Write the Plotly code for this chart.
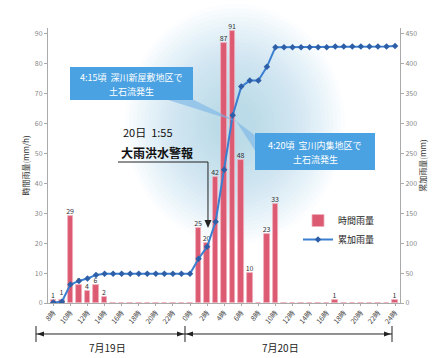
import plotly.graph_objects as go

# Hour index across 19th 08:00 through 20th 24:00
hours = list(range(41))
hourly_rain = [1, 1, 29, 6, 4, 6, 2, 0, 0, 0, 0, 0, 0, 0, 0, 0, 0,
               25, 20, 42, 87, 91, 48, 10, 0, 23, 33,
               0, 0, 0, 0, 0, 0, 1, 0, 0, 0, 0, 0, 0, 1]
cumulative_rain = [1, 2, 31, 37, 41, 47, 49, 49, 49, 49, 49, 49, 49, 49, 49, 49, 49,
                   74, 94, 136, 223, 314, 362, 372, 372, 395, 428,
                   428, 428, 428, 428, 428, 428, 429, 429, 429, 429, 429, 429, 429, 430]
tick_positions = hours[::2]
tick_labels = ["8時", "10時", "12時", "14時", "16時", "18時", "20時", "22時",
               "0時", "2時", "4時", "6時", "8時", "10時", "12時", "14時",
               "16時", "18時", "20時", "22時", "24時"]
left_ticks = list(range(0, 91, 10))
right_ticks = list(range(0, 451, 50))

W, H = 446, 358
ML, MR, MT, MB = 48, 46, 28, 55
PW, PH = W - ML - MR, H - MT - MB
FONT = "Noto Sans CJK JP"


def P(x, y):
    """pixel position -> paper coordinates"""
    return (x - ML) / PW, (H - MB - y) / PH


def path(points, close=True):
    pts = [P(x, y) for x, y in points]
    s = "M " + " L ".join(f"{a:.4f},{b:.4f}" for a, b in pts)
    return s + (" Z" if close else "")


shapes = []

# soft blue glow behind the peak
cx, cy, rx, ry = 235, 124, 110, 120
n_layers = 24
for k in range(n_layers):
    f = 1.0 - k * (0.85 / n_layers)
    x0, y0 = P(cx - rx * f, cy + ry * f)
    x1, y1 = P(cx + rx * f, cy - ry * f)
    shapes.append(dict(type="circle", xref="paper", yref="paper",
                       x0=x0, y0=y0, x1=x1, y1=y1, layer="below",
                       fillcolor="rgba(160,200,235,0.042)", line=dict(width=0)))

# callout tails and boxes
shapes.append(dict(type="path", xref="paper", yref="paper", layer="above",
                   path=path([(165, 99), (192, 99), (238, 122)]),
                   fillcolor="rgba(120,180,230,0.6)", line=dict(width=0)))
shapes.append(dict(type="path", xref="paper", yref="paper", layer="above",
                   path=path([(236, 121), (256, 136), (256, 152)]),
                   fillcolor="rgba(120,180,230,0.6)", line=dict(width=0)))
for (bx0, by0, bx1, by1) in [(70, 67, 193, 100), (255, 133, 375, 170)]:
    x0, y0 = P(bx0, by1)
    x1, y1 = P(bx1, by0)
    shapes.append(dict(type="rect", xref="paper", yref="paper", layer="above",
                       x0=x0, y0=y0, x1=x1, y1=y1,
                       fillcolor="#4aa2e2", line=dict(width=0)))

# warning pointer
shapes.append(dict(type="path", xref="paper", yref="paper", layer="above",
                   path=path([(118, 162), (208, 162), (208, 222)], close=False),
                   line=dict(color="#222", width=1)))
shapes.append(dict(type="path", xref="paper", yref="paper", layer="above",
                   path=path([(204.5, 220), (211.5, 220), (208, 228)]),
                   fillcolor="#222", line=dict(width=0)))

# day brackets under the axis
ay = 334
shapes.append(dict(type="path", xref="paper", yref="paper",
                   path=path([(36, ay), (392, ay)], close=False),
                   line=dict(color="#222", width=1)))
for vx in (36, 185, 392):
    shapes.append(dict(type="path", xref="paper", yref="paper",
                       path=path([(vx, ay - 8), (vx, ay + 8)], close=False),
                       line=dict(color="#222", width=1)))
for tip, base in [(37, 44), (184, 177), (186, 193), (391, 384)]:
    shapes.append(dict(type="path", xref="paper", yref="paper",
                       path=path([(tip, ay), (base, ay - 2.5), (base, ay + 2.5)]),
                       fillcolor="#222", line=dict(width=0)))

annotations = []


def text(x, y, s, size, color="#222", bold=False):
    px, py = P(x, y)
    annotations.append(dict(xref="paper", yref="paper", x=px, y=py, text=(f"<b>{s}</b>" if bold else s),
                            showarrow=False, xanchor="center", yanchor="middle",
                            font=dict(family=FONT, size=size, color=color)))


text(131, 77, "4:15頃  深川新屋敷地区で", 9, "white")
text(131, 91, "土石流発生", 9, "white")
text(315, 145, "4:20頃  宝川内集地区で", 9, "white")
text(315, 159, "土石流発生", 9, "white")
text(148, 132, "20日  1:55", 11, "#111")
text(157, 152, "大雨洪水警報", 12, "#111", bold=True)
text(107, 347, "7月19日", 10, "#222")
text(280, 347, "7月20日", 10, "#222")

fig = go.Figure()
fig.add_trace(go.Bar(
    x=hours, y=hourly_rain, name="時間雨量",
    marker=dict(color="#dc5a72", line=dict(color="#f0b0bd", width=0.8)),
    width=0.65,
    text=[str(v) if v > 0 else "" for v in hourly_rain],
    textposition="outside", cliponaxis=False, constraintext="none",
    textfont=dict(family=FONT, size=7, color="#333"),
))
fig.add_trace(go.Scatter(
    x=hours, y=cumulative_rain, name="累加雨量", yaxis="y2",
    mode="lines+markers",
    line=dict(color="#3a7fd0", width=2),
    marker=dict(symbol="diamond", size=5, color="#2d5fa8"),
))

fig.update_layout(
    width=W, height=H,
    margin=dict(l=ML, r=MR, t=MT, b=MB),
    paper_bgcolor="white", plot_bgcolor="rgba(0,0,0,0)",
    font=dict(family=FONT, color="#333"),
    bargap=0,
    showlegend=True,
    legend=dict(x=P(298, 0)[0], y=P(0, 206)[1], xanchor="left", yanchor="top",
                bgcolor="rgba(0,0,0,0)", font=dict(family=FONT, size=9, color="#222"),
                tracegroupgap=0, itemwidth=30),
    xaxis=dict(range=[-0.62, 40.58], tickvals=tick_positions, ticktext=tick_labels,
               tickangle=-50, tickfont=dict(size=7, color="#444"),
               showline=True, linecolor="#aaa", ticks="outside", ticklen=2,
               tickcolor="#aaa", showgrid=False, zeroline=False),
    yaxis=dict(range=[0, 92], tickvals=left_ticks, tickfont=dict(size=7, color="#888"),
               showline=True, linecolor="#aaa", ticks="outside", ticklen=3,
               tickcolor="#aaa", showgrid=False, zeroline=False,
               title=dict(text="時間雨量(mm/h)", font=dict(size=8, color="#333"), standoff=4)),
    yaxis2=dict(range=[0, 460], tickvals=right_ticks, overlaying="y", side="right",
                tickfont=dict(size=7, color="#888"),
                showline=True, linecolor="#aaa", ticks="outside", ticklen=3,
                tickcolor="#aaa", showgrid=False, zeroline=False,
                title=dict(text="累加雨量(mm)", font=dict(size=8, color="#333"), standoff=4)),
    shapes=shapes,
    annotations=annotations,
)

fig.write_html("out.html")
